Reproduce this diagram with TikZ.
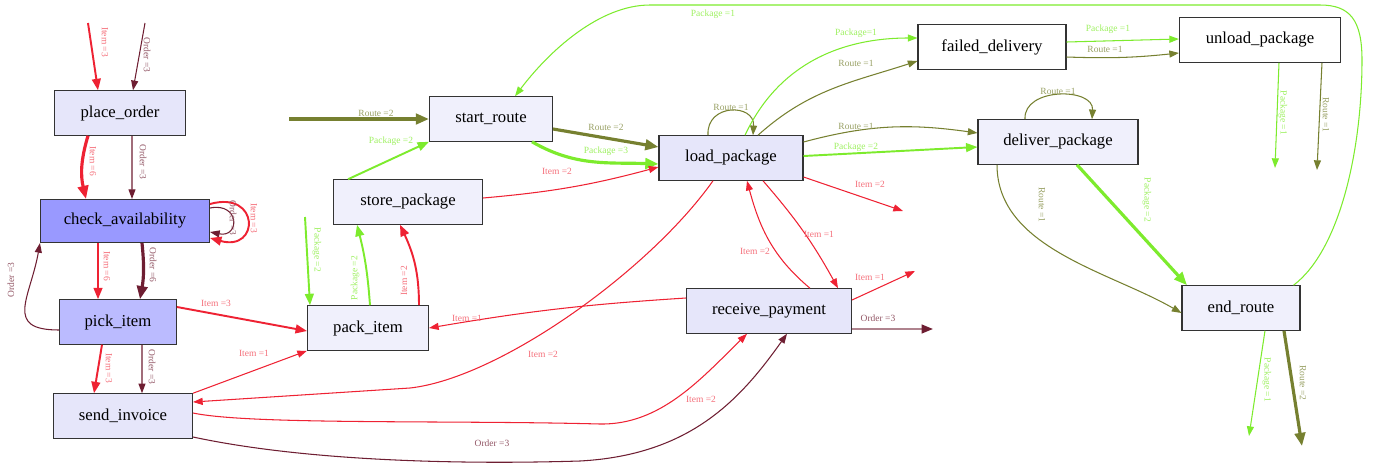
\documentclass[tikz,border=0pt]{standalone}
\usepackage{fontspec}
\setmainfont{Liberation Serif}
\usetikzlibrary{arrows.meta}

\definecolor{itemc}{RGB}{238,34,51}
\definecolor{orderc}{RGB}{110,30,50}
\definecolor{routec}{RGB}{118,128,48}
\definecolor{packc}{RGB}{125,235,45}
\definecolor{fillA}{RGB}{230,230,250}
\definecolor{fillB}{RGB}{240,240,252}
\definecolor{fillC}{RGB}{153,153,255}
\definecolor{fillD}{RGB}{187,187,255}

\begin{document}
\begin{tikzpicture}[x=0.02cm, y=-0.02cm,
		state/.style={draw=black!80, line width=0.6pt, inner sep=0pt, minimum height=0.89cm, font=\fontsize{9.5}{11}\selectfont},
		lbl/.style={inner sep=0pt, font=\fontsize{5.4}{6}\selectfont},
		lw1/.style={line width=0.6pt, -{Triangle[length=5.5pt, width=4pt]}},
		lw2/.style={line width=1.1pt, -{Triangle[length=6.5pt, width=5pt]}},
		lw3/.style={line width=1.8pt, -{Triangle[length=7.5pt, width=6pt]}},
		itemedge/.style={draw=itemc},
		orderedge/.style={draw=orderc},
		routeedge/.style={draw=routec},
		packedge/.style={draw=packc},
		orderfade/.style={line width=1.1pt, draw=orderc!55!white, -{Triangle[length=6.5pt, width=5pt, color=orderc]}},
		itemlab/.style={lbl, text=itemc!65!white},
		orderlab/.style={lbl, text=orderc!75!white},
		routelab/.style={lbl, text=routec!75!white},
		packlab/.style={lbl, text=packc!75!white}]
	\useasboundingbox (0,0) rectangle (1374,464);

	\node[state, fill=fillA, minimum width=2.62cm] (place) at (120,113) {place\_order};
	\node[state, fill=fillC, minimum width=3.38cm, minimum height=0.86cm] (check) at (125,221) {check\_availability};
	\node[state, fill=fillD, minimum width=2.34cm] (pick) at (118,322) {pick\_item};
	\node[state, fill=fillA, minimum width=2.78cm] (invoice) at (123,416) {send\_invoice};
	\node[state, fill=fillB, minimum width=2.46cm] (start) at (491,119) {start\_route};
	\node[state, fill=fillB, minimum width=2.98cm] (store) at (408,202) {store\_package};
	\node[state, fill=fillB, minimum width=2.42cm] (pack) at (368,328) {pack\_item};
	\node[state, fill=fillA, minimum width=2.88cm] (load) at (731,158) {load\_package};
	\node[state, fill=fillA, minimum width=3.30cm] (payment) at (769,311) {receive\_payment};
	\node[state, fill=white, minimum width=2.96cm] (failed) at (992,47) {failed\_delivery};
	\node[state, fill=white, minimum width=3.22cm] (unload) at (1260,40) {unload\_package};
	\node[state, fill=fillB, minimum width=3.20cm] (deliver) at (1058,142) {deliver\_package};
	\node[state, fill=fillB, minimum width=2.36cm] (endroute) at (1241,308) {end\_route};

	\coordinate (inItem) at (88,23);
	\coordinate (inOrder) at (145,23);
	\coordinate (inRoute) at (289,119);
	\coordinate (inPack) at (305,217);
	\coordinate (outLoadItem) at (903,211);
	\coordinate (outPayItem) at (915,271);
	\coordinate (outPayOrder) at (933,329);
	\coordinate (outUnloadPack) at (1275,168);
	\coordinate (outUnloadRoute) at (1317,170);
	\coordinate (outEndPack) at (1249,436);
	\coordinate (outEndRoute) at (1302,446);

	\draw[itemedge, lw2] (inItem) -- ([xshift=-0.44cm]place.north);
	\draw[orderedge, lw1] (inOrder) -- ([xshift=0.26cm]place.north);
	\draw[itemedge, lw3] ([xshift=-0.64cm]place.south) to[bend right=15] ([xshift=-0.78cm]check.north);
	\draw[orderedge, lw1] ([xshift=0.24cm]place.south) -- ([xshift=0.14cm]check.north);
	\draw[orderedge, lw1] ([yshift=0.26cm]check.east) .. controls +(30,-6) and +(30,6) .. ([yshift=-0.22cm]check.east);
	\draw[itemedge, lw2] ([yshift=0.34cm]check.east) .. controls +(50,-14) and +(50,14) .. ([yshift=-0.34cm]check.east);
	\draw[itemedge, lw2] ([xshift=-0.54cm]check.south) -- ([xshift=-0.4cm]pick.north);
	\draw[orderedge, lw3] ([xshift=0.34cm]check.south) to[bend left=8] ([xshift=0.44cm]pick.north);
	\draw[orderedge, lw1] ([yshift=-0.16cm]pick.west) to[out=180, in=-100, looseness=1.6] (check.south west);
	\draw[itemedge, lw2] ([xshift=-0.32cm]pick.south) -- ([xshift=-0.58cm]invoice.north);
	\draw[orderedge, lw1] ([xshift=0.48cm]pick.south) -- ([xshift=0.38cm]invoice.north);
	\draw[itemedge, lw2] ([yshift=0.3cm]pick.east) -- ([yshift=-0.06cm]pack.west);
	\draw[itemedge, lw1] (invoice.north east) -- (pack.south west);
	\draw[itemedge, lw1] ([xshift=-0.36cm]load.south) .. controls (650,270) and (500,378) .. (410,388) -- ([yshift=0.28cm]invoice.east);
	\draw[itemedge, lw1] ([yshift=0.06cm]invoice.east) .. controls (250,425) and (450,420) .. (600,424) .. controls (660,425) and (700,380) .. ([xshift=-0.44cm]payment.south);
	\draw[orderedge, lw1] ([yshift=-0.42cm]invoice.east) .. controls (300,460) and (450,465) .. (580,461) .. controls (690,455) and (740,400) .. ([xshift=0.36cm]payment.south);

	\draw[routeedge, lw3] (inRoute) -- (start.west);
	\draw[packedge, lw2] ([xshift=-1.2cm]store.north) -- (start.south west);
	\draw[routeedge, lw3] ([yshift=-0.2cm]start.east) -- ([yshift=0.22cm]load.west);
	\draw[packedge, lw3] ([xshift=0.82cm]start.south) to[out=-30, in=178] ([yshift=-0.12cm]load.west);
	\draw[itemedge, lw1] ([yshift=0.08cm]store.east) to[bend right=5] ([yshift=-0.18cm]load.west);
	\draw[packedge, lw2] (inPack) -- ([xshift=-1.16cm]pack.north);
	\draw[packedge, lw2] ([xshift=0.04cm]pack.north) to[bend right=5] ([xshift=-1.02cm]store.south);
	\draw[itemedge, lw2] ([xshift=1.02cm]pack.north) to[out=90, in=-65] ([xshift=-0.16cm]store.south);
	\draw[itemedge, lw1] ([yshift=0.26cm]payment.west) to[bend right=3] (pack.east);

	\draw[routeedge, lw1] ([xshift=-0.46cm]load.north) .. controls +(-2,-32) and +(2,-32) .. ([xshift=0.44cm]load.north);
	\draw[packedge, lw1] ([xshift=0.28cm]load.north) to[out=65, in=180] ([yshift=0.18cm]failed.west);
	\draw[routeedge, lw1] ([xshift=0.54cm]load.north) to[out=42, in=-162] ([yshift=-0.28cm]failed.west);
	\draw[routeedge, lw1] ([yshift=0.32cm]load.east) to[out=15, in=172] ([yshift=0.18cm]deliver.west);
	\draw[packedge, lw2] ([yshift=0.04cm]load.east) -- ([yshift=-0.1cm]deliver.west);
	\draw[itemedge, lw1] ([yshift=-0.38cm]load.east) -- (outLoadItem);
	\draw[itemedge, lw1] ([xshift=0.64cm]load.south) to[bend left=6] ([xshift=1.38cm]payment.north);
	\draw[itemedge, lw1] ([xshift=0.82cm]payment.north) to[out=140, in=-75] ([xshift=0.32cm]load.south);
	\draw[itemedge, lw1] ([yshift=0.22cm]payment.east) -- (outPayItem);
	\draw[orderfade] ([yshift=-0.36cm]payment.east) -- (outPayOrder);

	\draw[packedge, lw1] ([xshift=-0.14cm]endroute.north east) .. controls (1340,250) and (1362,150) .. (1362,60) .. controls (1362,20) and (1350,5) .. (1320,5) -- (650,5) .. controls (600,5) and (550,50) .. ([xshift=0.48cm]start.north);
	\draw[packedge, lw1] ([yshift=0.1cm]failed.east) -- ([yshift=0.02cm]unload.west);
	\draw[routeedge, lw1] ([yshift=-0.2cm]failed.east) to[bend right=4] ([yshift=-0.26cm]unload.west);
	\draw[packedge, lw1] ([xshift=0.38cm]unload.south) -- (outUnloadPack);
	\draw[routeedge, lw1] ([xshift=1.24cm]unload.south) -- (outUnloadRoute);
	\draw[routeedge, lw1] ([xshift=-0.66cm]deliver.north) .. controls +(-2,-32) and +(2,-32) .. ([xshift=0.68cm]deliver.north);
	\draw[routeedge, lw1] ([xshift=-1.22cm]deliver.south) to[out=-90, in=150, looseness=0.9] ([yshift=-0.1cm]endroute.west);
	\draw[packedge, lw3] ([xshift=0.38cm]deliver.south) -- ([xshift=-1.08cm]endroute.north);
	\draw[packedge, lw1] ([xshift=0.48cm]endroute.south) -- (outEndPack);
	\draw[routeedge, lw3] ([xshift=0.86cm]endroute.south) -- (outEndRoute);

	\node[itemlab, rotate=-90] (l1) at (105,42) {Item =3};
	\node[orderlab, rotate=-90] (l2) at (147,55) {Order =3};
	\node[itemlab, rotate=-90] (l3) at (93,161) {Item =6};
	\node[orderlab, rotate=-90] (l4) at (143,162) {Order =3};
	\node[orderlab, rotate=-90] (l5) at (233,218) {Order =3};
	\node[itemlab, rotate=-90] (l6) at (254,218) {Item =3};
	\node[itemlab, rotate=-90] (l7) at (107,266) {Item =6};
	\node[orderlab, rotate=-90] (l8) at (153,265) {Order =6};
	\node[orderlab, rotate=90] (l9) at (11,280) {Order =3};
	\node[itemlab, rotate=-90] (l10) at (109,368) {Item =3};
	\node[orderlab, rotate=-90] (l11) at (152,367) {Order =3};
	\node[itemlab] (l12) at (216,303) {Item =3};
	\node[itemlab] (l13) at (254,353) {Item =1};
	\node[itemlab] (l14) at (543,354) {Item =2};
	\node[itemlab] (l15) at (701,399) {Item =2};
	\node[orderlab] (l16) at (492,443) {Order =3};
	\node[routelab] (l17) at (376,113) {Route =2};
	\node[packlab] (l18) at (391,141) {Package =2};
	\node[routelab] (l19) at (606,127) {Route =2};
	\node[packlab] (l20) at (606,151) {Package =3};
	\node[itemlab] (l21) at (557,171) {Item =2};
	\node[packlab, rotate=-90] (l22) at (317,250) {Package =2};
	\node[packlab, rotate=90] (l23) at (355,278) {Package =2};
	\node[itemlab, rotate=90] (l24) at (404,281) {Item =2};
	\node[itemlab] (l25) at (467,318) {Item =1};
	\node[routelab] (l26) at (731,107) {Route =1};
	\node[packlab] (l27) at (856,33) {Package=1};
	\node[routelab] (l28) at (856,63) {Route =1};
	\node[routelab] (l29) at (856,126) {Route =1};
	\node[packlab] (l30) at (856,147) {Package =2};
	\node[itemlab] (l31) at (870,184) {Item =2};
	\node[itemlab] (l32) at (819,234) {Item =1};
	\node[itemlab] (l33) at (755,251) {Item =2};
	\node[itemlab] (l34) at (870,277) {Item =1};
	\node[orderlab] (l35) at (878,318) {Order =3};
	\node[packlab] (l36) at (713,14) {Package =1};
	\node[packlab] (l37) at (1108,29) {Package =1};
	\node[routelab] (l38) at (1105,49) {Route =1};
	\node[packlab, rotate=-90] (l39) at (1283,113) {Package =1};
	\node[routelab, rotate=-90] (l40) at (1326,115) {Route =1};
	\node[routelab] (l41) at (1058,91) {Route =1};
	\node[routelab, rotate=-90] (l42) at (1042,205) {Route =1};
	\node[packlab, rotate=-90] (l43) at (1147,200) {Package =2};
	\node[packlab, rotate=-90] (l44) at (1267,380) {Package =1};
	\node[routelab, rotate=-90] (l45) at (1303,383) {Route =2};
\end{tikzpicture}
\end{document}
